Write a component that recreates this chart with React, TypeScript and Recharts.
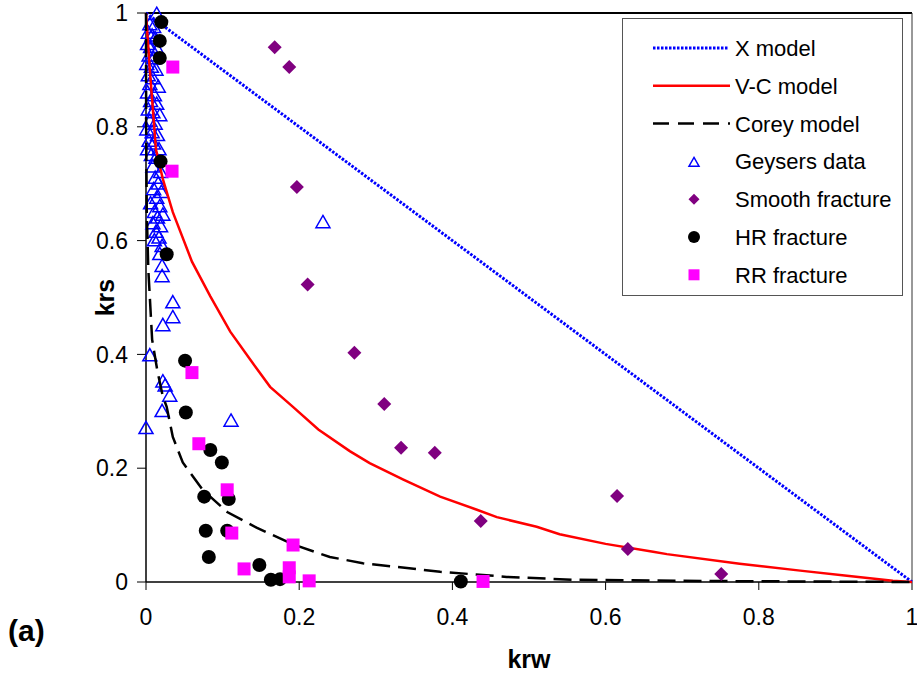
import React from 'react';
import { ScatterChart, Scatter, XAxis, YAxis, ReferenceLine } from 'recharts';

const xTicks = [0, 0.2, 0.4, 0.6, 0.8, 1];
const yTicks = [0, 0.2, 0.4, 0.6, 0.8, 1];

const xModel = [
  { x: 0, y: 1 },
  { x: 1, y: 0 },
];

const vcModel = [
  { x: 0, y: 1 }, { x: 0.005, y: 0.9 }, { x: 0.013, y: 0.76 }, { x: 0.022, y: 0.708 },
  { x: 0.035, y: 0.65 }, { x: 0.06, y: 0.563 }, { x: 0.084, y: 0.502 }, { x: 0.11, y: 0.44 },
  { x: 0.136, y: 0.391 }, { x: 0.162, y: 0.343 }, { x: 0.19, y: 0.31 }, { x: 0.225, y: 0.268 },
  { x: 0.266, y: 0.23 }, { x: 0.292, y: 0.209 }, { x: 0.336, y: 0.18 }, { x: 0.384, y: 0.15 },
  { x: 0.432, y: 0.127 }, { x: 0.458, y: 0.114 }, { x: 0.51, y: 0.097 }, { x: 0.54, y: 0.084 },
  { x: 0.6, y: 0.067 }, { x: 0.662, y: 0.053 }, { x: 0.68, y: 0.049 }, { x: 0.775, y: 0.032 },
  { x: 0.854, y: 0.02 }, { x: 0.915, y: 0.011 }, { x: 0.975, y: 0.002 }, { x: 1, y: 0 },
];

const coreyModel = [
  { x: 0, y: 1 }, { x: 0.0002, y: 0.8 }, { x: 0.001, y: 0.65 }, { x: 0.003, y: 0.55 },
  { x: 0.008, y: 0.426 }, { x: 0.015, y: 0.37 }, { x: 0.022, y: 0.326 }, { x: 0.027, y: 0.308 },
  { x: 0.035, y: 0.255 }, { x: 0.048, y: 0.21 }, { x: 0.074, y: 0.162 }, { x: 0.106, y: 0.123 },
  { x: 0.145, y: 0.095 }, { x: 0.192, y: 0.066 }, { x: 0.24, y: 0.044 }, { x: 0.283, y: 0.033 },
  { x: 0.384, y: 0.018 }, { x: 0.471, y: 0.009 }, { x: 0.557, y: 0.004 }, { x: 0.7, y: 0.002 },
  { x: 0.85, y: 0.001 }, { x: 1, y: 0 },
];

const geysersData = [
  [0.014, 0.998], [0.005, 0.98], [0.010, 0.975], [0.003, 0.965], [0.008, 0.96], [0.012, 0.955],
  [0.002, 0.945], [0.006, 0.94], [0.015, 0.935], [0.004, 0.925], [0.010, 0.92], [0.001, 0.91],
  [0.007, 0.905], [0.013, 0.9], [0.003, 0.89], [0.009, 0.885], [0.005, 0.875], [0.016, 0.87],
  [0.002, 0.86], [0.011, 0.855], [0.006, 0.845], [0.014, 0.84], [0.003, 0.83], [0.009, 0.825],
  [0.018, 0.82], [0.005, 0.81], [0.012, 0.805], [0.001, 0.795], [0.008, 0.79], [0.015, 0.785],
  [0.004, 0.775], [0.010, 0.77], [0.002, 0.76], [0.017, 0.76], [0.007, 0.75], [0.013, 0.745],
  [0.009, 0.73], [0.019, 0.72], [0.012, 0.71], [0.016, 0.7], [0.010, 0.69], [0.020, 0.685],
  [0.014, 0.675], [0.006, 0.665], [0.018, 0.66], [0.011, 0.65], [0.022, 0.645], [0.015, 0.64],
  [0.009, 0.63], [0.019, 0.625], [0.013, 0.615], [0.017, 0.605], [0.011, 0.6], [0.021, 0.59],
  [0.018, 0.576], [0.021, 0.555], [0.021, 0.537], [0.035, 0.491], [0.035, 0.465], [0.022, 0.451],
  [0.005, 0.398], [0.022, 0.352], [0.025, 0.345], [0.031, 0.327], [0.021, 0.3], [0.0, 0.27],
  [0.111, 0.283], [0.231, 0.632],
].map(([x, y]) => ({ x, y }));

const smoothFracture = [
  [0.168, 0.94], [0.187, 0.905], [0.197, 0.694], [0.211, 0.523], [0.272, 0.403], [0.311, 0.313],
  [0.333, 0.236], [0.377, 0.227], [0.437, 0.107], [0.615, 0.151], [0.629, 0.058], [0.751, 0.014],
].map(([x, y]) => ({ x, y }));

const hrFracture = [
  [0.02, 0.984], [0.018, 0.951], [0.018, 0.921], [0.019, 0.739], [0.027, 0.576], [0.051, 0.389],
  [0.052, 0.298], [0.084, 0.232], [0.099, 0.21], [0.076, 0.15], [0.108, 0.146], [0.078, 0.09],
  [0.106, 0.09], [0.082, 0.044], [0.148, 0.03], [0.163, 0.004], [0.175, 0.005], [0.411, 0.001],
].map(([x, y]) => ({ x, y }));

const rrFracture = [
  [0.035, 0.905], [0.034, 0.722], [0.06, 0.368], [0.069, 0.243], [0.106, 0.162], [0.112, 0.086],
  [0.192, 0.065], [0.128, 0.023], [0.187, 0.025], [0.187, 0.009], [0.213, 0.002], [0.44, 0.001],
].map(([x, y]) => ({ x, y }));

const FONT = "'Liberation Sans', Arial, sans-serif";

const Tri = ({ cx, cy, s = 7 }: any) => (
  <polygon
    points={`${cx},${cy - s} ${cx + s},${cy + s * 0.75} ${cx - s},${cy + s * 0.75}`}
    fill="none"
    stroke="#0000FF"
    strokeWidth={1.5}
  />
);
const Dia = ({ cx, cy, s = 7 }: any) => (
  <polygon points={`${cx},${cy - s} ${cx + s},${cy} ${cx},${cy + s} ${cx - s},${cy}`} fill="#800080" />
);
const Dot = ({ cx, cy, r = 7 }: any) => <circle cx={cx} cy={cy} r={r} fill="#000000" />;
const Sq = ({ cx, cy, s = 6.5 }: any) => (
  <rect x={cx - s} y={cy - s} width={s * 2} height={s * 2} fill="#FF00FF" />
);
const NoShape = () => <g />;

const legendRows = [
  'X model',
  'V-C model',
  'Corey model',
  'Geysers data',
  'Smooth fracture',
  'HR fracture',
  'RR fracture',
];

const LegendBox = () => {
  const W = 281;
  const H = 278;
  const rowY = (i: number) => 30 + i * 37.8;
  return (
    <svg width={W} height={H} style={{ display: 'block' }}>
      <rect x={0.5} y={0.5} width={W - 1} height={H - 1} fill="#fff" stroke="#555" strokeWidth={1} />
      <line x1={31} x2={106} y1={rowY(0)} y2={rowY(0)} stroke="#0000FF" strokeWidth={3} strokeDasharray="2.5 1.5" />
      <line x1={31} x2={108} y1={rowY(1)} y2={rowY(1)} stroke="#FF0000" strokeWidth={2.5} />
      <line x1={31} x2={108} y1={rowY(2)} y2={rowY(2)} stroke="#000" strokeWidth={2.5} strokeDasharray="16 9" />
      <Tri cx={72} cy={rowY(3) + 1} s={5} />
      <Dia cx={72} cy={rowY(4)} s={5.5} />
      <Dot cx={72} cy={rowY(5)} r={6} />
      <Sq cx={72} cy={rowY(6)} s={5.5} />
      {legendRows.map((t, i) => (
        <text key={t} x={113} y={rowY(i)} dy="0.36em" fontSize={22} fontFamily={FONT} fill="#000">
          {t}
        </text>
      ))}
    </svg>
  );
};

const axisTick = { fontSize: 23, fontFamily: FONT, fill: '#000' };

export default function App() {
  return (
    <div style={{ position: 'absolute', left: 0, top: 0, width: 917, height: 681, background: '#fff' }}>
      <ScatterChart width={917} height={681} margin={{ top: 13, right: 5, left: 0, bottom: 0 }}>
        <XAxis
          type="number"
          dataKey="x"
          domain={[0, 1]}
          ticks={xTicks}
          interval={0}
          axisLine={{ stroke: '#000', strokeWidth: 1.5 }}
          tickLine={{ stroke: '#000' }}
          tickSize={8}
          tickMargin={19}
          tick={axisTick}
          height={99}
          label={{
            content: ({ viewBox }: any) => (
              <text
                x={viewBox.x + viewBox.width / 2}
                y={viewBox.y + 86}
                textAnchor="middle"
                fontSize={25}
                fontWeight="bold"
                fontFamily={FONT}
              >
                krw
              </text>
            ),
          }}
        />
        <YAxis
          type="number"
          dataKey="y"
          domain={[0, 1]}
          ticks={yTicks}
          interval={0}
          width={146}
          axisLine={{ stroke: '#000', strokeWidth: 1.5 }}
          tickLine={{ stroke: '#000' }}
          tickSize={9}
          tickMargin={9}
          tick={axisTick}
          label={{
            content: ({ viewBox }: any) => {
              const cx = 105;
              const cy = viewBox.y + viewBox.height / 2;
              return (
                <text
                  x={cx}
                  y={cy}
                  transform={`rotate(-90 ${cx} ${cy})`}
                  textAnchor="middle"
                  dy="0.36em"
                  fontSize={25}
                  fontWeight="bold"
                  fontFamily={FONT}
                >
                  krs
                </text>
              );
            },
          }}
        />
        <ReferenceLine y={1} stroke="#000" strokeWidth={2} />
        <ReferenceLine x={1} stroke="#333" strokeWidth={1} />
        <Scatter data={geysersData} shape={(p: any) => <Tri cx={p.cx} cy={p.cy} />} isAnimationActive={false} />
        <Scatter
          data={xModel}
          fill="#0000FF"
          line={{ stroke: '#0000FF', strokeWidth: 3, strokeDasharray: '2.5 1.5' }}
          lineType="joint"
          shape={NoShape}
          isAnimationActive={false}
        />
        <Scatter
          data={vcModel}
          fill="#FF0000"
          line={{ stroke: '#FF0000', strokeWidth: 2.5 }}
          lineType="joint"
          shape={NoShape}
          isAnimationActive={false}
        />
        <Scatter
          data={coreyModel}
          fill="#000"
          line={{ stroke: '#000', strokeWidth: 2.5, strokeDasharray: '18 8' }}
          lineType="joint"
          shape={NoShape}
          isAnimationActive={false}
        />
        <Scatter data={smoothFracture} shape={(p: any) => <Dia cx={p.cx} cy={p.cy} />} isAnimationActive={false} />
        <Scatter data={hrFracture} shape={(p: any) => <Dot cx={p.cx} cy={p.cy} />} isAnimationActive={false} />
        <Scatter data={rrFracture} shape={(p: any) => <Sq cx={p.cx} cy={p.cy} />} isAnimationActive={false} />
      </ScatterChart>
      <div style={{ position: 'absolute', left: 622, top: 18 }}>
        <LegendBox />
      </div>
      <div
        style={{
          position: 'absolute',
          left: 8,
          top: 614,
          fontFamily: FONT,
          fontWeight: 'bold',
          fontSize: 30,
          lineHeight: '34px',
        }}
      >
        (a)
      </div>
    </div>
  );
}
